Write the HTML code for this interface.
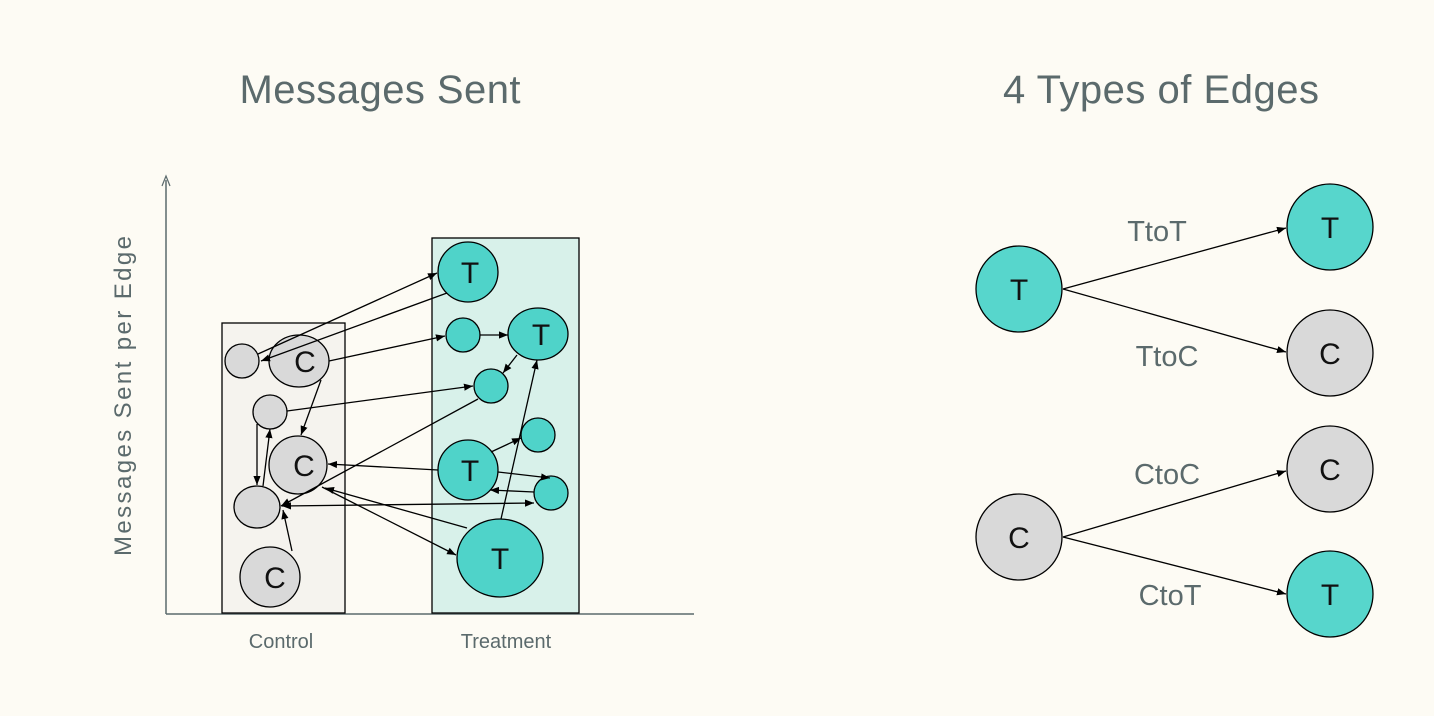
<!DOCTYPE html>
<html><head><meta charset="utf-8"><style>
html,body{margin:0;padding:0;background:#fdfbf4;}
svg{display:block;}
.t{font-family:"Liberation Sans",sans-serif;fill:#5b6a6c;}
.n{font-family:"Liberation Sans",sans-serif;fill:#111;font-size:30px;text-anchor:middle;}
</style></head><body>
<svg width="1434" height="716" viewBox="0 0 1434 716" xmlns="http://www.w3.org/2000/svg">
<defs>
<marker id="a" viewBox="0 0 10 10" refX="10" refY="5" markerWidth="9" markerHeight="9" markerUnits="userSpaceOnUse" orient="auto"><path d="M0,1 L10,5 L0,9 z" fill="#000"/></marker>
<marker id="s" viewBox="0 0 10 10" refX="0" refY="5" markerWidth="9" markerHeight="9" markerUnits="userSpaceOnUse" orient="auto"><path d="M10,1 L0,5 L10,9 z" fill="#000"/></marker>
</defs>
<rect width="1434" height="716" fill="#fdfbf4"/>
<text class="t" x="380" y="103" font-size="40" text-anchor="middle" textLength="281">Messages Sent</text>
<text class="t" x="1161" y="103" font-size="40" text-anchor="middle" textLength="316">4 Types of Edges</text>
<line x1="166" y1="180" x2="166" y2="614" stroke="#5b6a6c" stroke-width="1.5"/>
<path d="M162,186 L166,176 L170,186" fill="none" stroke="#5b6a6c" stroke-width="1.2"/>
<line x1="166" y1="614" x2="694" y2="614" stroke="#5b6a6c" stroke-width="1.5"/>
<text class="t" font-size="24" text-anchor="middle" transform="translate(131,396) rotate(-90)" textLength="320">Messages Sent  per Edge</text>
<text class="t" x="281" y="648" font-size="20" text-anchor="middle">Control</text>
<text class="t" x="506" y="648" font-size="20" text-anchor="middle">Treatment</text>
<rect x="222" y="323" width="123" height="290" fill="#f5f3ee" stroke="#000" stroke-width="1.3"/>
<rect x="432" y="238" width="147" height="375" fill="#d8f1ea" stroke="#000" stroke-width="1.3"/>
<g stroke="#000" stroke-width="1.3">
<circle cx="242" cy="361" r="17" fill="#d9d9d9"/>
<ellipse cx="299" cy="361" rx="30" ry="26" fill="#d9d9d9"/>
<circle cx="270" cy="412" r="17" fill="#d9d9d9"/>
<circle cx="298" cy="465" r="29" fill="#d9d9d9"/>
<ellipse cx="257" cy="507" rx="23" ry="21" fill="#d9d9d9"/>
<circle cx="270" cy="577" r="30" fill="#d9d9d9"/>
<circle cx="468" cy="272" r="30" fill="#4fd3c9"/>
<circle cx="463" cy="335" r="17" fill="#4fd3c9"/>
<ellipse cx="538" cy="334" rx="30" ry="26" fill="#4fd3c9"/>
<circle cx="491" cy="386" r="17" fill="#4fd3c9"/>
<circle cx="538" cy="435" r="17" fill="#4fd3c9"/>
<circle cx="468" cy="470" r="30" fill="#4fd3c9"/>
<circle cx="551" cy="493" r="17" fill="#4fd3c9"/>
<ellipse cx="500" cy="558" rx="43" ry="39" fill="#4fd3c9"/>
</g>
<g class="n">
<text x="305" y="372">C</text>
<text x="304" y="476">C</text>
<text x="275" y="588">C</text>
<text x="470" y="283">T</text>
<text x="541" y="345">T</text>
<text x="470" y="481">T</text>
<text x="500" y="569">T</text>
</g>
<g stroke="#000" stroke-width="1.3" fill="none" marker-end="url(#a)">
<line x1="258" y1="354" x2="437" y2="273"/>
<line x1="447" y1="293" x2="261" y2="361"/>
<line x1="329" y1="361" x2="445" y2="336"/>
<line x1="480" y1="335" x2="508" y2="335"/>
<line x1="517" y1="355" x2="503" y2="373"/>
<line x1="321" y1="380" x2="301" y2="435"/>
<line x1="287" y1="411" x2="473" y2="386"/>
<line x1="257" y1="424" x2="257" y2="485"/>
<line x1="263" y1="486" x2="270" y2="429"/>
<line x1="478" y1="399" x2="281" y2="506"/>
<line x1="438" y1="470" x2="328" y2="464"/>
<line x1="491" y1="452" x2="521" y2="438"/>
<line x1="498" y1="472" x2="550" y2="478"/>
<line x1="534" y1="492" x2="490" y2="490"/>
<line x1="282" y1="506" x2="534" y2="503" marker-start="url(#s)"/>
<line x1="322" y1="487" x2="456" y2="555"/>
<line x1="467" y1="528" x2="325" y2="488"/>
<line x1="501" y1="519" x2="537" y2="360"/>
<line x1="292" y1="551" x2="283" y2="510"/>
</g>
<g stroke="#000" stroke-width="1.3">
<circle cx="1019" cy="289" r="43" fill="#57d6cc"/>
<circle cx="1330" cy="227" r="43" fill="#57d6cc"/>
<circle cx="1330" cy="353" r="43" fill="#d9d9d9"/>
<circle cx="1330" cy="469" r="43" fill="#d9d9d9"/>
<circle cx="1019" cy="537" r="43" fill="#d9d9d9"/>
<circle cx="1330" cy="594" r="43" fill="#57d6cc"/>
</g>
<g stroke="#000" stroke-width="1.3" marker-end="url(#a)">
<line x1="1063" y1="289" x2="1286" y2="228"/>
<line x1="1063" y1="289" x2="1286" y2="352"/>
<line x1="1063" y1="537" x2="1286" y2="471"/>
<line x1="1063" y1="537" x2="1286" y2="594"/>
</g>
<g class="n">
<text x="1019" y="300">T</text>
<text x="1330" y="238">T</text>
<text x="1330" y="364">C</text>
<text x="1330" y="480">C</text>
<text x="1019" y="548">C</text>
<text x="1330" y="605">T</text>
</g>
<g class="t" font-size="29" text-anchor="middle">
<text x="1157" y="241">TtoT</text>
<text x="1167" y="366">TtoC</text>
<text x="1167" y="484">CtoC</text>
<text x="1170" y="605">CtoT</text>
</g>
</svg>
</body></html>
